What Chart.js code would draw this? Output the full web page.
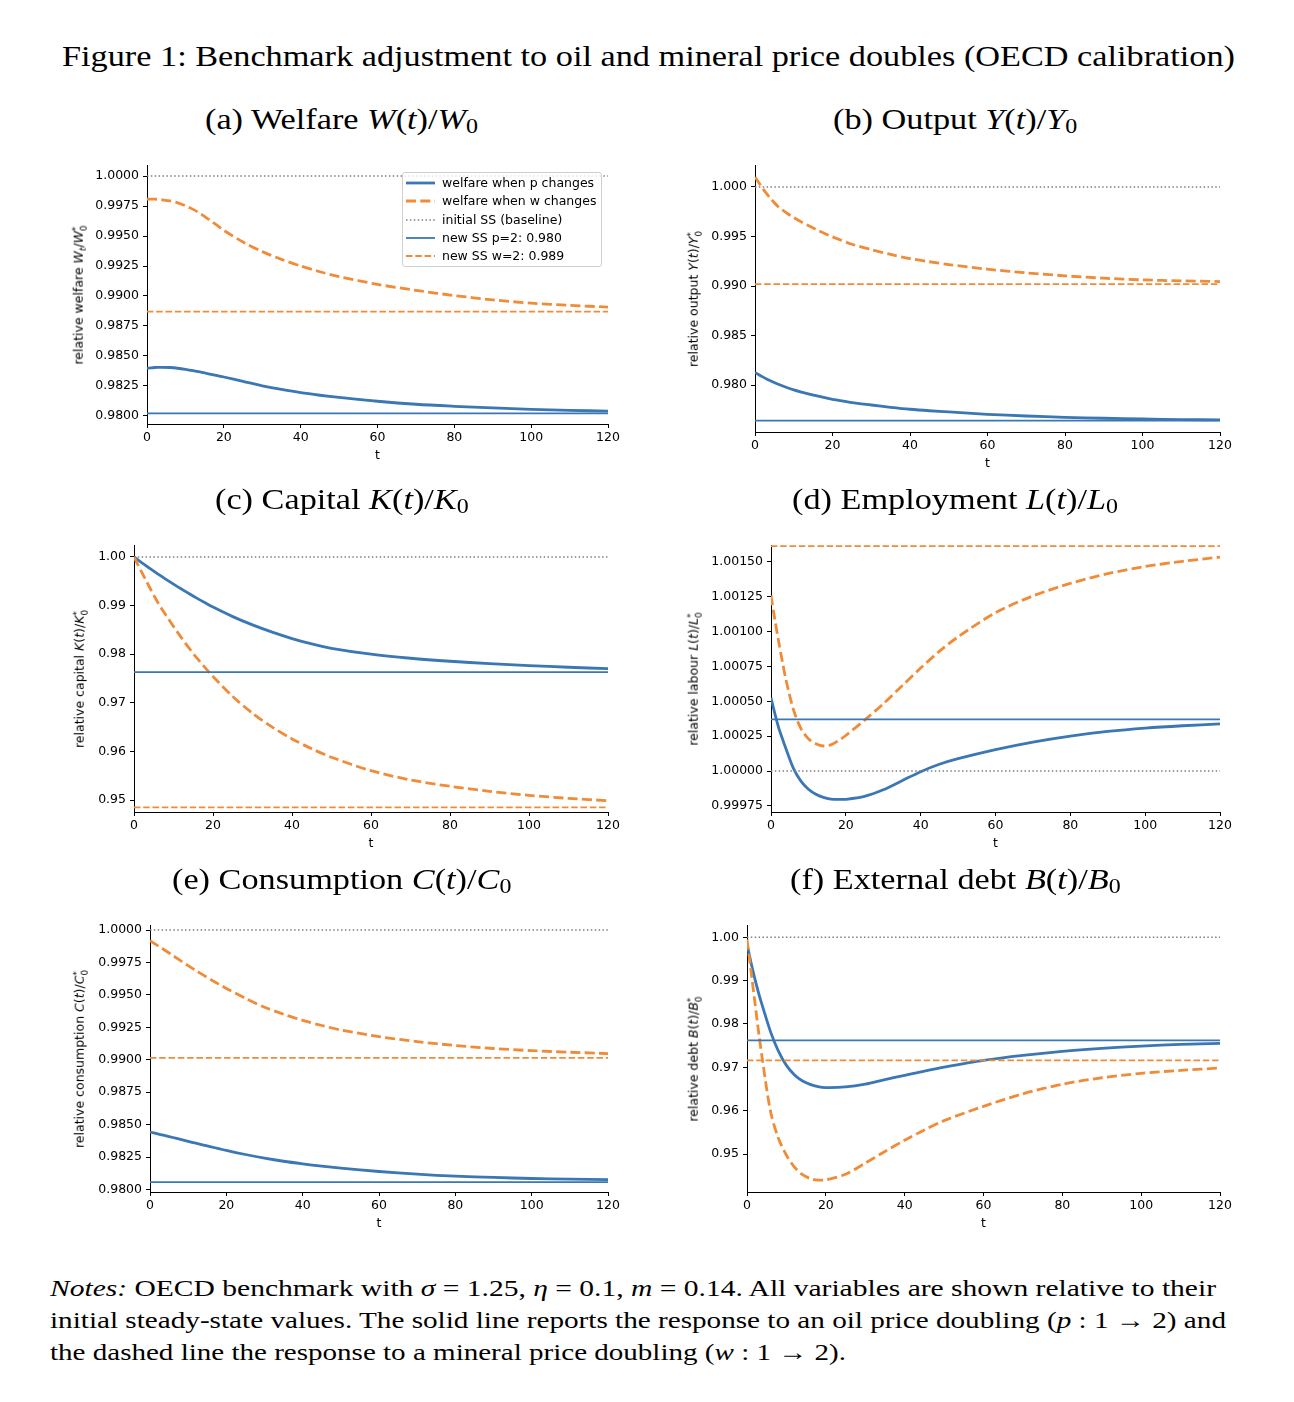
<!DOCTYPE html>
<html>
<head>
<meta charset="utf-8">
<script src="https://cdn.jsdelivr.net/npm/chart.js@4.4.1/dist/chart.umd.min.js"></script>
<style>
  body { margin: 0; background: #fff; }
  #page { position: relative; width: 1294px; height: 1402px; overflow: hidden; background: #fff; }
  .serif { position: absolute; font-family: "Liberation Serif", "Times New Roman", serif; white-space: nowrap; line-height: 1; transform-origin: 0 0; color: #000; }
  .lab { position: absolute; font-family: "DejaVu Sans", sans-serif; font-size: 12.5px; white-space: nowrap; line-height: 1; color: #000; }
  .center { transform: translate(-50%, -50%); }
  .rot { transform: translate(-50%, -50%) rotate(-90deg); }
  .serif sub { font-size: 0.7em; vertical-align: -0.22em; line-height: 0; }
  .lab sub { font-size: 0.7em; vertical-align: -0.3em; line-height: 0; }
  .ss { display: inline-block; font-size: 0.7em; line-height: 0.95; vertical-align: -0.45em; text-align: left; }
  .ss span { display: block; }
  canvas { position: absolute; }
  #legend { position: absolute; left: 402px; top: 172px; width: 200px; height: 95px; box-sizing: border-box;
            border: 1px solid #d0d0d0; border-radius: 3px; background: rgba(255,255,255,0.8); }
  #legend .row { position: absolute; left: 0; height: 14px; }
  #legend svg { position: absolute; left: 3px; top: 0; }
  #legend .txt { position: absolute; left: 39px; top: 1px; font-family: "DejaVu Sans", sans-serif; font-size: 12.5px; white-space: nowrap; line-height: 1; }
</style>
</head>
<body>
<div id="page"></div>
<script>
// time grid of the simulated paths
const tValues = [0, 1, 2, 3, 4, 6, 8, 10, 12, 14, 16, 18, 20, 25, 30, 35, 40, 45, 50, 60, 70, 80, 90, 100, 110, 120];

// paths relative to initial steady state (p = oil price doubling, w = mineral price doubling)
const welfareP = [0.98397, 0.98401, 0.98404, 0.98405, 0.98406, 0.98404, 0.98398, 0.98389, 0.98378, 0.98365, 0.98352, 0.98338, 0.98325, 0.98288, 0.98252, 0.98221, 0.98194, 0.98173, 0.98155, 0.98123, 0.98098, 0.98081, 0.98067, 0.98056, 0.98047, 0.98041];
const welfareW = [0.99808, 0.99808, 0.99807, 0.99805, 0.99802, 0.99792, 0.99776, 0.99752, 0.99722, 0.99684, 0.99640, 0.99594, 0.99547, 0.99450, 0.99370, 0.99305, 0.99250, 0.99202, 0.99161, 0.99097, 0.99047, 0.99004, 0.98968, 0.98940, 0.98922, 0.98908];
const outputP = [0.98128, 0.98104, 0.98082, 0.98061, 0.98042, 0.98007, 0.97977, 0.97950, 0.97928, 0.97908, 0.97890, 0.97872, 0.97856, 0.97822, 0.97798, 0.97775, 0.97755, 0.97740, 0.97728, 0.97704, 0.97687, 0.97674, 0.97664, 0.97657, 0.97651, 0.97647];
const outputW = [1.00101, 1.00042, 0.99985, 0.99933, 0.99885, 0.99800, 0.99742, 0.99692, 0.99647, 0.99605, 0.99566, 0.99530, 0.99496, 0.99422, 0.99368, 0.99319, 0.99277, 0.99245, 0.99217, 0.99170, 0.99133, 0.99103, 0.99079, 0.99062, 0.99052, 0.99045];
const capitalP = [1.00000, 0.99940, 0.99881, 0.99823, 0.99766, 0.99654, 0.99546, 0.99442, 0.99341, 0.99243, 0.99148, 0.99057, 0.98969, 0.98773, 0.98603, 0.98453, 0.98322, 0.98212, 0.98122, 0.98000, 0.97917, 0.97855, 0.97806, 0.97766, 0.97731, 0.97702];
const capitalW = [1.00000, 0.99840, 0.99681, 0.99524, 0.99368, 0.99070, 0.98814, 0.98571, 0.98340, 0.98118, 0.97913, 0.97723, 0.97541, 0.97129, 0.96786, 0.96500, 0.96257, 0.96055, 0.95879, 0.95604, 0.95412, 0.95282, 0.95179, 0.95096, 0.95034, 0.94986];
const labourP = [1.000525, 1.000415, 1.000315, 1.000235, 1.000160, 1.000020, 0.999928, 0.999870, 0.999834, 0.999812, 0.999800, 0.999797, 0.999798, 0.999819, 0.999866, 0.999931, 0.999996, 1.000049, 1.000089, 1.000154, 1.000208, 1.000251, 1.000284, 1.000308, 1.000325, 1.000338];
const labourW = [1.001258, 1.001090, 1.000936, 1.000790, 1.000655, 1.000440, 1.000305, 1.000232, 1.000196, 1.000180, 1.000188, 1.000218, 1.000255, 1.000365, 1.000482, 1.000610, 1.000738, 1.000858, 1.000962, 1.001135, 1.001255, 1.001345, 1.001415, 1.001466, 1.001503, 1.001533];
const consumptionP = [0.98443, 0.98436, 0.98429, 0.98422, 0.98415, 0.98401, 0.98386, 0.98371, 0.98357, 0.98343, 0.98329, 0.98315, 0.98301, 0.98270, 0.98242, 0.98218, 0.98198, 0.98180, 0.98165, 0.98139, 0.98118, 0.98103, 0.98093, 0.98085, 0.98080, 0.98077];
const consumptionW = [0.99918, 0.99899, 0.99880, 0.99861, 0.99842, 0.99803, 0.99764, 0.99725, 0.99688, 0.99652, 0.99617, 0.99583, 0.99550, 0.99474, 0.99405, 0.99351, 0.99304, 0.99264, 0.99230, 0.99178, 0.99140, 0.99110, 0.99087, 0.99070, 0.99058, 0.99048];
const debtP = [0.99847, 0.99424, 0.99041, 0.98695, 0.98388, 0.97813, 0.97368, 0.97045, 0.96830, 0.96692, 0.96608, 0.96556, 0.96534, 0.96548, 0.96612, 0.96718, 0.96815, 0.96915, 0.97005, 0.97160, 0.97276, 0.97368, 0.97437, 0.97490, 0.97529, 0.97552];
const debtW = [0.99950, 0.99233, 0.98503, 0.97774, 0.97122, 0.95971, 0.95357, 0.94973, 0.94705, 0.94528, 0.94436, 0.94400, 0.94405, 0.94535, 0.94790, 0.95060, 0.95318, 0.95556, 0.95770, 0.96100, 0.96390, 0.96610, 0.96760, 0.96862, 0.96930, 0.96984];

// new steady states, per panel a..f
const steadyP = [0.98022, 0.97640, 0.97630, 1.00037, 0.98057, 0.97621];
const steadyW = [0.98870, 0.99018, 0.94849, 1.001612, 0.99014, 0.97160];
const baseline = 1.0;

// tick labels
const xTicks = [0, 20, 40, 60, 80, 100, 120];
const yTicksWelfare = [0.98, 0.9825, 0.985, 0.9875, 0.99, 0.9925, 0.995, 0.9975, 1.0];
const yTicksOutput = [0.98, 0.985, 0.99, 0.995, 1.0];
const yTicksCapital = [0.95, 0.96, 0.97, 0.98, 0.99, 1.0];
const yTicksLabour = [0.99975, 1.0, 1.00025, 1.0005, 1.00075, 1.001, 1.00125, 1.0015];
const yTicksConsumption = [0.98, 0.9825, 0.985, 0.9875, 0.99, 0.9925, 0.995, 0.9975, 1.0];
const yTicksDebt = [0.95, 0.96, 0.97, 0.98, 0.99, 1.0];

const legendLabels = ["welfare when p changes", "welfare when w changes", "initial SS (baseline)", "new SS p=2: 0.980", "new SS w=2: 0.989"];

const BLUE = "#3a77b4";
const ORANGE = "#f08b38";
const GREY = "#7f7f7f";

// layout of each panel (plot box in page pixels)
const panels = [
  { p: welfareP, w: welfareW, ticks: yTicksWelfare, dec: 4, box: [147, 608, 165, 424], lim: [0.979333, 1.000917], ylx: 80,
    title: "(a) Welfare <i>W</i>(<i>t</i>)/<i>W</i><sub>0</sub>", tx: 342, tb: 129.7,
    ylab: "relative welfare <i>W</i><sub><i>t</i></sub>/<i>W</i><span class='ss'><span>*</span><span>0</span></span>" },
  { p: outputP, w: outputW, ticks: yTicksOutput, dec: 3, box: [755, 1220, 165, 432], lim: [0.975253, 1.002222], ylx: 695,
    title: "(b) Output <i>Y</i>(<i>t</i>)/<i>Y</i><sub>0</sub>", tx: 955, tb: 129.7,
    ylab: "relative output <i>Y</i>(<i>t</i>)/<i>Y</i><span class='ss'><span>*</span><span>0</span></span>" },
  { p: capitalP, w: capitalW, ticks: yTicksCapital, dec: 2, box: [134, 608, 545, 812], lim: [0.947531, 1.002469], ylx: 81,
    title: "(c) Capital <i>K</i>(<i>t</i>)/<i>K</i><sub>0</sub>", tx: 342, tb: 509.7,
    ylab: "relative capital <i>K</i>(<i>t</i>)/<i>K</i><span class='ss'><span>*</span><span>0</span></span>" },
  { p: labourP, w: labourW, ticks: yTicksLabour, dec: 5, box: [771, 1220, 545, 812], lim: [0.999707, 1.00162], ylx: 695,
    title: "(d) Employment <i>L</i>(<i>t</i>)/<i>L</i><sub>0</sub>", tx: 955, tb: 509.7,
    ylab: "relative labour <i>L</i>(<i>t</i>)/<i>L</i><span class='ss'><span>*</span><span>0</span></span>" },
  { p: consumptionP, w: consumptionW, ticks: yTicksConsumption, dec: 4, box: [150, 608, 925, 1192], lim: [0.97981, 1.000386], ylx: 81,
    title: "(e) Consumption <i>C</i>(<i>t</i>)/<i>C</i><sub>0</sub>", tx: 342, tb: 889.7,
    ylab: "relative consumption <i>C</i>(<i>t</i>)/<i>C</i><span class='ss'><span>*</span><span>0</span></span>" },
  { p: debtP, w: debtW, ticks: yTicksDebt, dec: 2, box: [747, 1220, 925, 1192], lim: [0.94124, 1.00284], ylx: 695,
    title: "(f) External debt <i>B</i>(<i>t</i>)/<i>B</i><sub>0</sub>", tx: 955, tb: 889.7,
    ylab: "relative debt <i>B</i>(<i>t</i>)/<i>B</i><span class='ss'><span>*</span><span>0</span></span>" }
];

const PAD_L = 72, PAD_R = 25, PAD_T = 12, PAD_B = 32;
const page = document.getElementById("page");

function el(tag, cls, html, css) {
  const e = document.createElement(tag);
  if (cls) e.className = cls;
  if (html) e.innerHTML = html;
  Object.assign(e.style, css || {});
  page.appendChild(e);
  return e;
}

function series(values) {
  return tValues.map((t, i) => ({ x: t, y: values[i] }));
}
function flat(v) {
  return [{ x: 0, y: v }, { x: 120, y: v }];
}

function drawPanel(cfg, i) {
  const [l, r, t, b] = cfg.box;
  const w = r - l + PAD_L + PAD_R;
  const h = b - t + PAD_T + PAD_B;
  const cv = el("canvas", null, null, { left: (l - PAD_L) + "px", top: (t - PAD_T) + "px", width: w + "px", height: h + "px" });
  cv.width = w;
  cv.height = h;

  const font = { family: "DejaVu Sans", size: 12.5 };
  const axisCommon = {
    grid: { display: true, drawOnChartArea: false, drawTicks: true, tickLength: 4, color: "#000", lineWidth: 1 },
    border: { display: true, color: "#000", width: 1 },
  };

  new Chart(cv.getContext("2d"), {
    type: "line",
    data: {
      datasets: [
        { data: series(cfg.p), borderColor: BLUE, borderWidth: 2.8, order: 5 },
        { data: series(cfg.w), borderColor: ORANGE, borderWidth: 2.8, borderDash: [10, 4.3], order: 4 },
        { data: flat(baseline), borderColor: GREY, borderWidth: 1.5, borderDash: [1.5, 2.4], order: 3 },
        { data: flat(steadyP[i]), borderColor: BLUE, borderWidth: 1.8, order: 2 },
        { data: flat(steadyW[i]), borderColor: ORANGE, borderWidth: 1.8, borderDash: [6.5, 2.8], order: 1 },
      ].map(d => Object.assign({ pointRadius: 0, fill: false, tension: 0.3, borderCapStyle: "butt" }, d)),
    },
    options: {
      responsive: false,
      animation: false,
      events: [],
      layout: { padding: { left: 0, top: PAD_T, right: PAD_R, bottom: 0 } },
      plugins: { legend: { display: false }, tooltip: { enabled: false } },
      scales: {
        x: Object.assign({}, axisCommon, {
          type: "linear", min: 0, max: 120,
          afterBuildTicks: s => { s.ticks = xTicks.map(v => ({ value: v })); },
          afterFit: s => { s.height = PAD_B; },
          ticks: { color: "#000", font: font, padding: 2.5, maxRotation: 0, autoSkip: false, callback: v => String(v) },
        }),
        y: Object.assign({}, axisCommon, {
          type: "linear", min: cfg.lim[0], max: cfg.lim[1],
          afterBuildTicks: s => { s.ticks = cfg.ticks.map(v => ({ value: v })); },
          afterFit: s => { s.width = PAD_L; },
          ticks: { color: "#000", font: font, padding: 4, autoSkip: false, callback: v => Number(v).toFixed(cfg.dec) },
        }),
      },
    },
  });

  // axis labels
  el("div", "lab rot", cfg.ylab, { left: cfg.ylx + "px", top: ((t + b) / 2) + "px" });
  el("div", "lab center", "t", { left: ((l + r) / 2) + "px", top: (b + 30.5) + "px" });
}

panels.forEach(drawPanel);

// legend of panel (a)
const legend = el("div", null, null, {});
legend.id = "legend";
const rowsY = [3, 21, 39.5, 58, 76];
legendLabels.forEach((txt, k) => {
  const row = document.createElement("div");
  row.className = "row";
  row.style.top = rowsY[k] + "px";
  const styles = [
    `stroke="${BLUE}" stroke-width="2.8"`,
    `stroke="${ORANGE}" stroke-width="2.8" stroke-dasharray="10 4.3"`,
    `stroke="${GREY}" stroke-width="1.5" stroke-dasharray="1.5 2.4"`,
    `stroke="${BLUE}" stroke-width="1.8"`,
    `stroke="${ORANGE}" stroke-width="1.8" stroke-dasharray="6.5 2.8"`,
  ];
  row.innerHTML = `<svg width="30" height="14"><line x1="0" y1="7" x2="29" y2="7" ${styles[k]}/></svg><span class="txt">${txt}</span>`;
  legend.appendChild(row);
});

// serif texts placed by baseline
const ASC = 0.8375;
function serifText(html, fs, baselineY) {
  return el("div", "serif", html, { fontSize: fs + "px", top: (baselineY - ASC * fs) + "px", left: "0px" });
}

const title = serifText("Figure 1: Benchmark adjustment to oil and mineral price doubles (OECD calibration)", 29, 66.5);
const k = 1173 / title.getBoundingClientRect().width;
title.style.left = "62px";
title.style.transform = `scaleX(${k})`;

panels.forEach(cfg => {
  const s = serifText(cfg.title, 29, cfg.tb);
  const wNat = s.getBoundingClientRect().width;
  s.style.left = (cfg.tx - wNat * k / 2) + "px";
  s.style.transform = `scaleX(${k})`;
});

const notes = [
  ["<i>Notes:</i> OECD benchmark with <i>σ</i> = 1.25, <i>η</i> = 0.1, <i>m</i> = 0.14. All variables are shown relative to their", 1296, 1166],
  ["initial steady-state values. The solid line reports the response to an oil price doubling (<i>p</i> : 1 → 2) and", 1328, 1176],
  ["the dashed line the response to a mineral price doubling (<i>w</i> : 1 → 2).", 1360, 796],
];
notes.forEach(([html, y, width]) => {
  const n = serifText(html, 24, y);
  const kk = width / n.getBoundingClientRect().width;
  n.style.left = "50px";
  n.style.transform = `scaleX(${kk})`;
});
</script>
</body>
</html>
